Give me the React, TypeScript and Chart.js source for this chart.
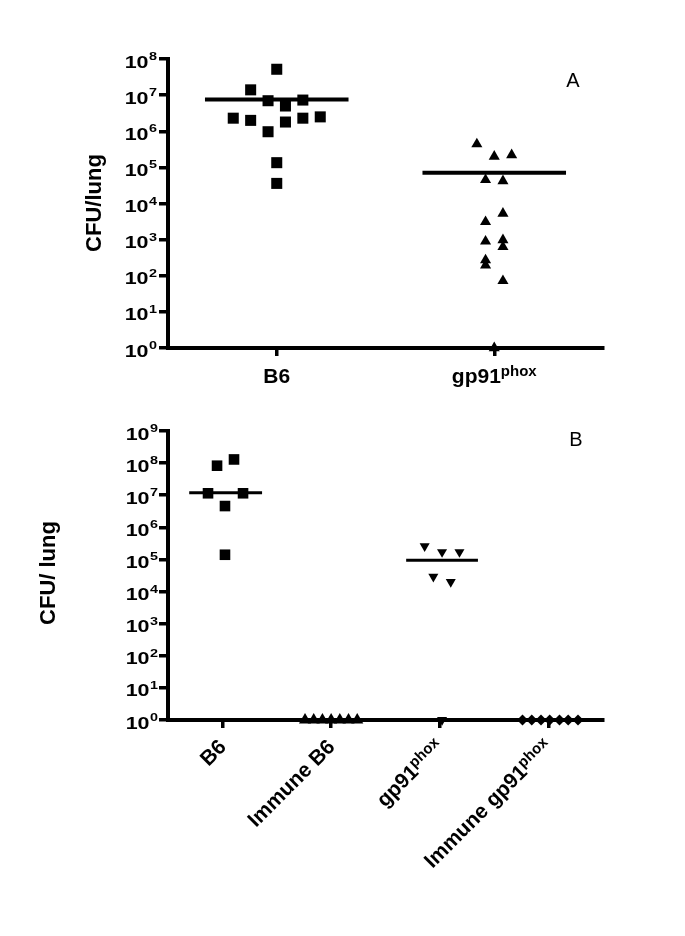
import React, { useEffect, useRef } from "react";
import { Chart, registerables } from "chart.js";

Chart.register(...registerables);

// ---------------- Data: panel A ----------------
const aCategories = ["B6", "gp91"];
const aCategorySup = ["", "phox"];
const aB6X = [1.0, 0.88, 0.96, 1.12, 1.04, 0.8, 0.88, 1.04, 1.12, 1.2, 0.96, 1.0, 1.0];
const aB6Y = [5.2e7, 1.4e7, 7.0e6, 7.3e6, 5.0e6, 2.3e6, 2.0e6, 1.8e6, 2.3e6, 2.5e6, 9.7e5, 1.35e5, 3.6e4];
const aGpX = [1.92, 2.0, 2.08, 1.96, 2.04, 2.04, 1.96, 1.96, 2.04, 2.04, 1.96, 1.96, 2.04, 2.0];
const aGpY = [4.4e5, 2.0e5, 2.2e5, 4.5e4, 4.2e4, 5.3e3, 3.1e3, 900, 980, 630, 270, 195, 72, 1];
const aMeanX = [1, 2];
const aMeanY = [7.6e6, 7.1e4];
const aYTickValues = [1, 10, 100, 1e3, 1e4, 1e5, 1e6, 1e7, 1e8];
const aYTickExponents = ["0", "1", "2", "3", "4", "5", "6", "7", "8"];

// ---------------- Data: panel B ----------------
const bCategories = ["B6", "Immune B6", "gp91", "Immune gp91"];
const bCategorySup = ["", "", "phox", "phox"];
const bB6X = [0.951, 1.107, 0.868, 1.19, 1.024, 1.024];
const bB6Y = [8.3e7, 1.3e8, 1.15e7, 1.15e7, 4.6e6, 1.4e5];
const bImmB6X = [1.76, 1.84, 1.92, 2.0, 2.08, 2.16, 2.24];
const bImmB6Y = [1, 1, 1, 1, 1, 1, 1];
const bGpX = [2.86, 3.02, 3.18, 2.94, 3.1, 3.02];
const bGpY = [2.6e5, 1.7e5, 1.7e5, 2.9e4, 2.0e4, 1];
const bImmGpX = [3.76, 3.845, 3.93, 4.01, 4.1, 4.18, 4.27];
const bImmGpY = [1, 1, 1, 1, 1, 1, 1];
const bMeanX = [1.03, 3.02];
const bMeanY = [1.2e7, 9.5e4];
const bYTickValues = [1, 10, 100, 1e3, 1e4, 1e5, 1e6, 1e7, 1e8, 1e9];
const bYTickExponents = ["0", "1", "2", "3", "4", "5", "6", "7", "8", "9"];

const yTitleA = "CFU/lung";
const yTitleB = "CFU/ lung";
const tickBase = "10";

const FONT = '"Liberation Sans", Arial, Helvetica, sans-serif';

function toPoints(xs: number[], ys: number[]) {
  return xs.map((x, i) => ({ x, y: ys[i] }));
}

function drawText(ctx: CanvasRenderingContext2D, text: string, x: number, y: number, font: string, sx: number, align: string) {
  ctx.font = font;
  const w = ctx.measureText(text).width * sx;
  const left = align === "right" ? x - w : align === "center" ? x - w / 2 : x;
  ctx.save();
  ctx.translate(left, y);
  ctx.scale(sx, 1);
  ctx.textAlign = "left";
  ctx.textBaseline = "alphabetic";
  ctx.fillText(text, 0, 0);
  ctx.restore();
  return w;
}

type LabelCfg = {
  yTicks: number[];
  yExps: string[];
  tickRight: number;
  cats: string[];
  sups: string[];
  rotated: boolean;
  xLabelY: number;
  yTitle: string;
  yTitleX: number;
  yTitleY: number;
  letter: string;
  letterX: number;
  letterY: number;
};

function labelPlugin(cfg: LabelCfg) {
  return {
    id: "customLabels" + cfg.letter,
    afterDraw(chart: any) {
      const ctx: CanvasRenderingContext2D = chart.ctx;
      const xs = chart.scales.x;
      const ys = chart.scales.y;
      ctx.save();
      ctx.fillStyle = "#000";
      // y tick labels
      cfg.yTicks.forEach((v, i) => {
        const py = ys.getPixelForValue(v);
        const ew = drawText(ctx, cfg.yExps[i], cfg.tickRight, py + 1, `bold 11.5px ${FONT}`, 1.25, "right");
        drawText(ctx, tickBase, cfg.tickRight - ew - 0.5, py + 8.5, `bold 16.5px ${FONT}`, 1.3, "right");
      });
      // x labels
      const mainFont = `bold 21px ${FONT}`;
      const supFont = `bold 15px ${FONT}`;
      cfg.cats.forEach((c, i) => {
        const px = xs.getPixelForValue(i + 1);
        const sup = cfg.sups[i];
        ctx.font = mainFont;
        const mw = ctx.measureText(c).width;
        ctx.font = supFont;
        const sw = sup ? ctx.measureText(sup).width : 0;
        if (!cfg.rotated) {
          const total = mw + sw;
          const left = px - total / 2;
          ctx.font = mainFont;
          ctx.textAlign = "left";
          ctx.textBaseline = "alphabetic";
          ctx.fillText(c, left, cfg.xLabelY);
          if (sup) {
            ctx.font = supFont;
            ctx.fillText(sup, left + mw, cfg.xLabelY - 7);
          }
        } else {
          ctx.save();
          ctx.translate(px + 5, cfg.xLabelY);
          ctx.rotate(-Math.PI / 4);
          ctx.textAlign = "right";
          ctx.textBaseline = "alphabetic";
          if (sup) {
            ctx.font = supFont;
            ctx.fillText(sup, 0, -7);
          }
          ctx.font = mainFont;
          ctx.fillText(c, -sw, 0);
          ctx.restore();
        }
      });
      // y title
      ctx.save();
      ctx.translate(cfg.yTitleX, cfg.yTitleY);
      ctx.rotate(-Math.PI / 2);
      ctx.font = `bold 22px ${FONT}`;
      ctx.textAlign = "center";
      ctx.textBaseline = "middle";
      ctx.fillText(cfg.yTitle, 0, 0);
      ctx.restore();
      // panel letter
      ctx.font = `20px ${FONT}`;
      ctx.textAlign = "center";
      ctx.textBaseline = "middle";
      ctx.fillText(cfg.letter, cfg.letterX, cfg.letterY);
      ctx.restore();
    },
  };
}

function pointSet(xs: number[], ys: number[], style: string, radius: number, rotation = 0) {
  return {
    data: toPoints(xs, ys),
    pointStyle: style,
    pointRadius: radius,
    pointRotation: rotation,
    backgroundColor: "#000",
    borderColor: "#000",
    borderWidth: 0,
    pointBorderWidth: 0,
    showLine: false,
    clip: false,
  };
}

function meanSet(cx: number, y: number, half: number, width: number) {
  return {
    data: [
      { x: cx - half, y },
      { x: cx + half, y },
    ],
    showLine: true,
    pointRadius: 0,
    borderColor: "#000",
    borderWidth: width,
    backgroundColor: "#000",
    clip: false,
  };
}

function makeConfig(opts: {
  datasets: any[];
  nCats: number;
  yMax: number;
  yTicks: number[];
  padTop: number;
  xHeight: number;
  plugin: any;
}) {
  return {
    type: "scatter" as const,
    data: { datasets: opts.datasets },
    options: {
      animation: false,
      responsive: false,
      devicePixelRatio: 1,
      events: [],
      layout: { padding: { top: opts.padTop, right: 82, left: 0, bottom: 0 } },
      plugins: { legend: { display: false }, tooltip: { enabled: false } },
      scales: {
        x: {
          type: "linear",
          min: 0.5,
          max: opts.nCats + 0.5,
          afterBuildTicks: (s: any) => {
            s.ticks = Array.from({ length: opts.nCats }, (_, i) => ({ value: i + 1 }));
          },
          afterFit: (s: any) => {
            s.height = opts.xHeight;
          },
          ticks: { display: false },
          grid: { drawOnChartArea: false, drawTicks: true, tickLength: 8, lineWidth: 3.5, color: "#000" },
          border: { display: true, color: "#000", width: 4 },
        },
        y: {
          type: "logarithmic",
          min: 1,
          max: opts.yMax,
          afterBuildTicks: (s: any) => {
            s.ticks = opts.yTicks.map((v) => ({ value: v }));
          },
          afterFit: (s: any) => {
            s.width = 168;
          },
          ticks: { display: false },
          grid: { drawOnChartArea: false, drawTicks: true, tickLength: 9, lineWidth: 3.5, color: "#000" },
          border: { display: true, color: "#000", width: 4 },
        },
      },
    },
    plugins: [opts.plugin],
  };
}

export default function App() {
  const refA = useRef<HTMLCanvasElement | null>(null);
  const refB = useRef<HTMLCanvasElement | null>(null);

  useEffect(() => {
    const chartA = new Chart(
      refA.current as HTMLCanvasElement,
      makeConfig({
        datasets: [
          pointSet(aB6X, aB6Y, "rect", 7.8),
          pointSet(aGpX, aGpY, "triangle", 6.4),
          meanSet(aMeanX[0], aMeanY[0], 0.33, 4),
          meanSet(aMeanX[1], aMeanY[1], 0.33, 4),
        ],
        nCats: 2,
        yMax: 1e8,
        yTicks: aYTickValues,
        padTop: 59,
        xHeight: 62,
        plugin: labelPlugin({
          yTicks: aYTickValues,
          yExps: aYTickExponents,
          tickRight: 157,
          cats: aCategories,
          sups: aCategorySup,
          rotated: false,
          xLabelY: 383,
          yTitle: yTitleA,
          yTitleX: 95,
          yTitleY: 203,
          letter: "A",
          letterX: 573,
          letterY: 81,
        }),
      }) as any
    );
    const chartB = new Chart(
      refB.current as HTMLCanvasElement,
      makeConfig({
        datasets: [
          pointSet(bB6X, bB6Y, "rect", 7.5),
          pointSet(bImmB6X, bImmB6Y, "triangle", 7),
          pointSet(bGpX, bGpY, "triangle", 5.8, 180),
          pointSet(bImmGpX, bImmGpY, "rectRot", 5.5),
          meanSet(bMeanX[0], bMeanY[0], 0.335, 3),
          meanSet(bMeanX[1], bMeanY[1], 0.33, 3),
        ],
        nCats: 4,
        yMax: 1e9,
        yTicks: bYTickValues,
        padTop: 21,
        xHeight: 216,
        plugin: labelPlugin({
          yTicks: bYTickValues,
          yExps: bYTickExponents,
          tickRight: 158,
          cats: bCategories,
          sups: bCategorySup,
          rotated: true,
          xLabelY: 338,
          yTitle: yTitleB,
          yTitleX: 49,
          yTitleY: 163,
          letter: "B",
          letterX: 576,
          letterY: 30,
        }),
      }) as any
    );
    return () => {
      chartA.destroy();
      chartB.destroy();
    };
  }, []);

  return (
    <div style={{ position: "absolute", left: 0, top: 0, width: 685, height: 936, background: "#fff" }}>
      <canvas
        ref={refA}
        width={685}
        height={410}
        style={{ position: "absolute", left: 0, top: 0, width: 685, height: 410 }}
      />
      <canvas
        ref={refB}
        width={685}
        height={526}
        style={{ position: "absolute", left: 0, top: 410, width: 685, height: 526 }}
      />
    </div>
  );
}
